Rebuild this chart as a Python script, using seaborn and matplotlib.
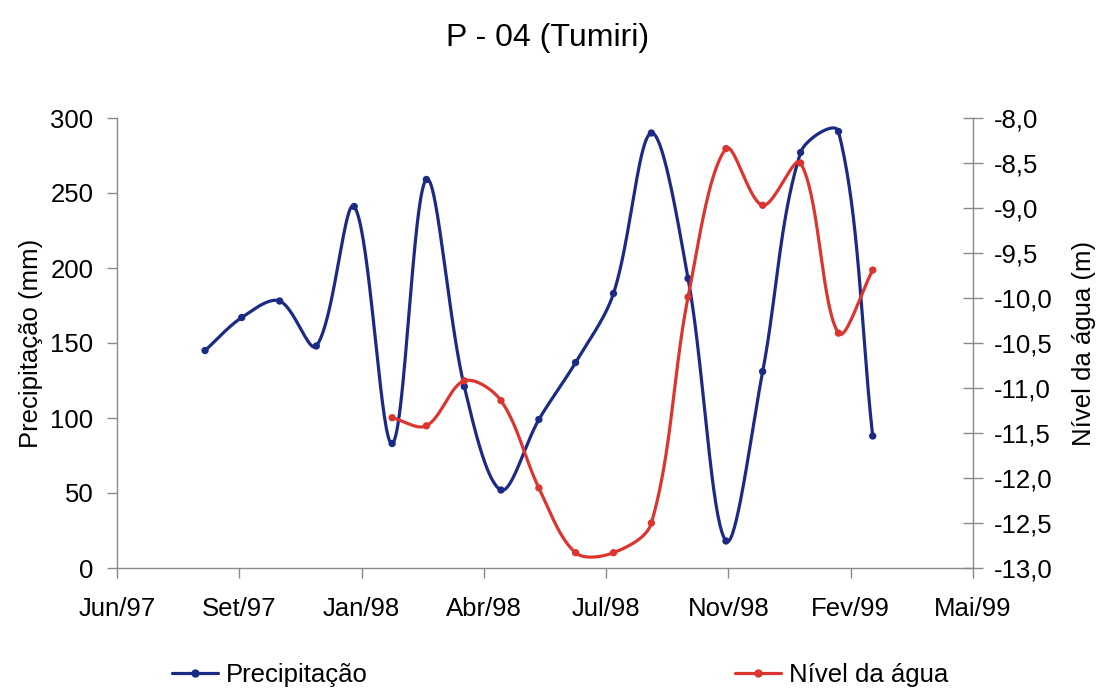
import numpy as np
import pandas as pd
import matplotlib
matplotlib.use("Agg")
import matplotlib.pyplot as plt
from matplotlib.lines import Line2D
import seaborn as sns

# ---- data -------------------------------------------------------------
title = "P - 04 (Tumiri)"
precip_dates = ["1997-08-31", "1997-09-30", "1997-10-31", "1997-11-30", "1997-12-31",
                "1998-01-31", "1998-02-28", "1998-03-31", "1998-04-30", "1998-05-31",
                "1998-06-30", "1998-07-31", "1998-08-31", "1998-09-30", "1998-10-31",
                "1998-11-30", "1998-12-31", "1999-01-31", "1999-02-28"]
precip_mm = [145, 167, 178, 148, 241, 83, 259, 121, 52, 99, 137, 183, 290, 193, 18,
             131, 277, 291, 88]
level_dates = ["1998-01-31", "1998-02-28", "1998-03-31", "1998-04-30", "1998-05-31",
               "1998-06-30", "1998-07-31", "1998-08-31", "1998-09-30", "1998-10-31",
               "1998-11-30", "1998-12-31", "1999-01-31", "1999-02-28"]
level_m = [-11.33, -11.42, -10.92, -11.14, -12.11, -12.83, -12.83, -12.50, -9.99,
           -8.34, -8.97, -8.50, -10.39, -9.69]
x_tick_labels = ["Jun/97", "Set/97", "Jan/98", "Abr/98", "Jul/98", "Nov/98", "Fev/99", "Mai/99"]
axis_start = "1997-06-20"
tick_step_days = 100

BLUE = "#1b2a84"
RED = "#dc3530"
AXIS_GREY = "#8a8a8a"

FIG_W, FIG_H = 1096, 689
AX_L, AX_R, AX_T, AX_B = 117, 973, 118, 568
total_days = tick_step_days * (len(x_tick_labels) - 1)
P_LIM = (0, 300)
L_LIM = (-13, -8)


def days_from_start(dates):
    return (pd.to_datetime(dates) - pd.Timestamp(axis_start)).days.to_numpy(float)


def smoothed(x, y, kx, ky, n=40):
    """Bezier smoothing through every point; tangents are weighted by the
    on-screen segment lengths (kx, ky convert data units to pixels)."""
    x = np.asarray(x, float)
    y = np.asarray(y, float)
    px = np.r_[x[0], x, x[-1]]
    py = np.r_[y[0], y, y[-1]]

    def dist(i, j):
        return np.hypot((px[j] - px[i]) * kx, (py[j] - py[i]) * ky)

    t = np.linspace(0, 1, n)
    b0, b1, b2, b3 = (1 - t) ** 3, 3 * (1 - t) ** 2 * t, 3 * (1 - t) * t ** 2, t ** 3
    xs, ys = [], []
    for i in range(1, len(px) - 2):
        d01, d12, d23 = dist(i - 1, i), dist(i, i + 1), dist(i + 1, i + 2)
        f1 = d12 / (d01 + d12) / 3 if d01 + d12 > 0 else 0
        f2 = d12 / (d12 + d23) / 3 if d12 + d23 > 0 else 0
        c1x = px[i] + (px[i + 1] - px[i - 1]) * f1
        c1y = py[i] + (py[i + 1] - py[i - 1]) * f1
        c2x = px[i + 1] - (px[i + 2] - px[i]) * f2
        c2y = py[i + 1] - (py[i + 2] - py[i]) * f2
        seg_x = b0 * px[i] + b1 * c1x + b2 * c2x + b3 * px[i + 1]
        seg_y = b0 * py[i] + b1 * c1y + b2 * c2y + b3 * py[i + 1]
        if i > 1:
            seg_x, seg_y = seg_x[1:], seg_y[1:]
        xs.append(seg_x)
        ys.append(seg_y)
    return np.concatenate(xs), np.concatenate(ys)


# ---- style ------------------------------------------------------------
sns.set_theme(style="white")
plt.rcParams["font.family"] = ["Liberation Sans", "DejaVu Sans"]
plt.rcParams["text.color"] = "black"
plt.rcParams["axes.labelcolor"] = "black"
plt.rcParams["xtick.color"] = "black"
plt.rcParams["ytick.color"] = "black"
FS = 18.5

fig = plt.figure(figsize=(FIG_W / 100, FIG_H / 100), dpi=100)
ax = fig.add_axes([AX_L / FIG_W, 1 - AX_B / FIG_H, (AX_R - AX_L) / FIG_W, (AX_B - AX_T) / FIG_H])
ax2 = ax.twinx()

kx = (AX_R - AX_L) / total_days
ky_p = (AX_B - AX_T) / (P_LIM[1] - P_LIM[0])
ky_l = (AX_B - AX_T) / (L_LIM[1] - L_LIM[0])

px_days = days_from_start(precip_dates)
lv_days = days_from_start(level_dates)

sx, sy = smoothed(px_days, precip_mm, kx, ky_p)
sns.lineplot(x=sx, y=sy, ax=ax, color=BLUE, lw=2.3, sort=False, estimator=None)
sns.scatterplot(x=px_days, y=precip_mm, ax=ax, color=BLUE, s=28, edgecolor="none", zorder=3)

lx, ly = smoothed(lv_days, level_m, kx, ky_l)
sns.lineplot(x=lx, y=ly, ax=ax2, color=RED, lw=2.3, sort=False, estimator=None)
sns.scatterplot(x=lv_days, y=level_m, ax=ax2, color=RED, s=28, edgecolor="none", zorder=3)

# ---- axes -------------------------------------------------------------
ax.set_xlim(0, total_days)
ax.set_xticks(np.arange(0, total_days + 1, tick_step_days))
ax.set_xticklabels(x_tick_labels)
ax.set_ylim(*P_LIM)
ax.set_yticks(np.arange(0, 301, 50))
level_ticks = np.arange(L_LIM[0], L_LIM[1] + 0.01, 0.5)
ax2.set_ylim(*L_LIM)
ax2.set_yticks(level_ticks)
ax2.set_yticklabels([f"{v:.1f}".replace(".", ",") for v in level_ticks])

for a in (ax, ax2):
    a.grid(False)
    a.spines["top"].set_visible(False)
    for s in ("left", "right", "bottom"):
        a.spines[s].set_color(AXIS_GREY)
        a.spines[s].set_linewidth(1.0)
ax.spines["right"].set_visible(False)
ax2.spines["left"].set_visible(False)
ax2.spines["bottom"].set_visible(False)

ax.tick_params(axis="x", direction="out", length=7, width=1, color=AXIS_GREY,
               labelsize=FS, labelcolor="black", pad=14, bottom=True)
ax.tick_params(axis="y", direction="out", length=7, width=1, color=AXIS_GREY,
               labelsize=FS, labelcolor="black", pad=10, left=True)
ax2.tick_params(axis="y", direction="inout", length=14, width=1, color=AXIS_GREY,
                labelsize=FS, labelcolor="black", pad=8, right=True)

ax.set_xlabel("")
ax.set_ylabel("Precipitação (mm)", fontsize=FS, labelpad=5)
ax2.set_ylabel("Nível da água (m)", fontsize=FS, labelpad=14)

fig.text(0.5, 1 - 38 / FIG_H, title, ha="center", va="center", fontsize=23)

handles = [
    Line2D([], [], color=BLUE, lw=2.3, marker="o", markersize=5, label="Precipitação"),
    Line2D([], [], color=RED, lw=2.3, marker="o", markersize=5, label="Nível da água"),
]
fig.legend(handles=handles, loc="center", bbox_to_anchor=(560 / FIG_W, 1 - 675 / FIG_H),
           ncol=2, frameon=False, fontsize=FS, handlelength=1.8, handletextpad=0.3,
           columnspacing=14.3, borderpad=0)

fig.savefig("out.png", dpi=100, facecolor="white")
